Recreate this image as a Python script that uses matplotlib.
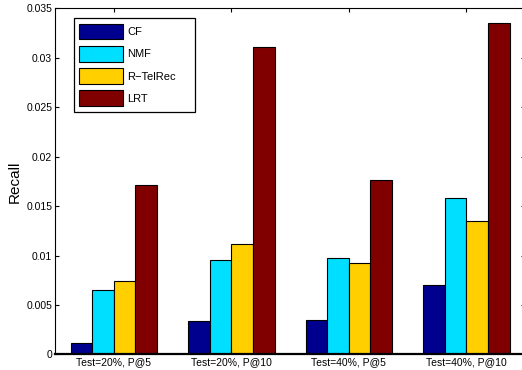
import matplotlib.pyplot as plt
import numpy as np

groups = ['Test=20%, P@5', 'Test=20%, P@10', 'Test=40%, P@5', 'Test=40%, P@10']
methods = ['CF', 'NMF', 'R\u2212TelRec', 'LRT']
cf = [0.0012, 0.0034, 0.0035, 0.0070]
nmf = [0.0065, 0.0095, 0.0098, 0.0158]
rtelrec = [0.0074, 0.0112, 0.0092, 0.0135]
lrt = [0.0171, 0.0311, 0.0176, 0.0335]
yticks = [0, 0.005, 0.01, 0.015, 0.02, 0.025, 0.03, 0.035]

colors = ['#00008f', '#00dfff', '#ffcf00', '#800000']

plt.rcParams['font.family'] = ['Liberation Sans', 'DejaVu Sans']

fig = plt.figure(figsize=(5.22, 3.7), dpi=100)
ax = fig.add_axes([0.1054, 0.0419, 0.9004, 0.936])

x = np.arange(1, len(groups) + 1)
w = 0.184
series = [cf, nmf, rtelrec, lrt]
for i, (vals, name) in enumerate(zip(series, methods)):
    ax.bar(x + (i - 1.5) * w, vals, w, color=colors[i], edgecolor='black',
           linewidth=0.8, label=name)

ax.set_xlim(0.5, 4.5)
ax.set_ylim(0, 0.035)
ax.set_xticks(x)
ax.set_xticklabels(groups, fontsize=7.5)
ax.set_yticks(yticks)
ax.set_yticklabels(['%g' % t for t in yticks], fontsize=7.5)
ax.tick_params(direction='in', top=True, right=True, length=3, width=0.8, pad=2)
for s in ax.spines.values():
    s.set_linewidth(0.8)
ax.spines['bottom'].set_linewidth(1.6)
ax.set_ylabel('Recall', fontsize=11, labelpad=3)

leg = ax.legend(loc='upper left', bbox_to_anchor=(0.04, 0.705, 0.2574, 0.266),
                mode='expand', borderaxespad=0,
                fontsize=8, handlelength=3.9, handleheight=1.8,
                labelspacing=0.58, fancybox=False, framealpha=1,
                edgecolor='black', borderpad=0.5, handletextpad=0.4)
leg.get_frame().set_linewidth(0.9)

fig.savefig('out.png', dpi=100)
